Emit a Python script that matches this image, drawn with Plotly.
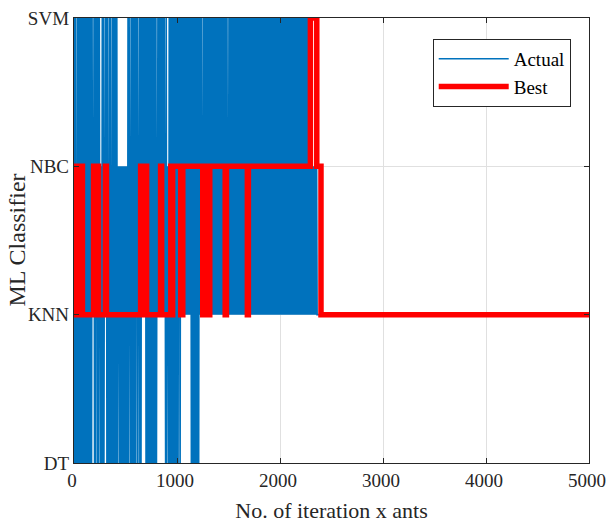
import plotly.graph_objects as go

# ---------------- data ----------------
classifiers = ["DT", "KNN", "NBC", "SVM"]          # y categories (0..3)
x_ticks = [0, 1000, 2000, 3000, 4000, 5000]

# "Actual" series: iteration ranges in which the chosen classifier
# switches rapidly between a lowest and highest classifier (band)
actual_seg_start = [0, 20, 30, 180, 190, 200, 220, 230, 250, 260, 270, 290,
                    300, 320, 330, 340, 360, 370, 420, 430, 440, 520, 540, 550,
                    610, 620, 630, 640, 660, 700, 800, 810, 880, 890, 900, 910,
                    920, 1020, 1030, 1040, 1140, 1220, 1240, 1250, 1490, 1500, 2290]
actual_seg_end = actual_seg_start[1:] + [2360]
actual_seg_low = ["DT", "DT", "DT", "KNN", "KNN", "DT", "KNN", "DT", "KNN", "DT", "DT", "DT",
                  "KNN", "DT", "DT", "DT", "DT", "DT", "DT", "KNN", "DT", "DT", "KNN", "DT",
                  "KNN", "DT", "KNN", "DT", "KNN", "DT", "DT", "KNN", "KNN", "DT", "DT", "KNN",
                  "DT", "KNN", "DT", "KNN", "DT", "KNN", "KNN", "KNN", "KNN", "KNN", "KNN"]
actual_seg_high = ["SVM", "NBC", "SVM", "NBC", "SVM", "SVM", "SVM", "SVM", "NBC", "NBC", "SVM", "NBC",
                   "SVM", "SVM", "NBC", "SVM", "NBC", "SVM", "NBC", "NBC", "NBC", "SVM", "NBC", "SVM",
                   "SVM", "NBC", "SVM", "SVM", "SVM", "SVM", "NBC", "SVM", "NBC", "SVM", "NBC", "NBC",
                   "SVM", "SVM", "SVM", "SVM", "SVM", "SVM", "NBC", "SVM", "NBC", "SVM", "NBC"]
actual_tail_x = [2360, 5000]
actual_tail_y = ["KNN", "KNN"]
actual_step = 5

# "Best" series: step changes (iteration, classifier)
best_x = [0, 0, 25, 35, 55, 65, 82, 190, 205, 220, 238, 305, 315, 647, 665, 685,
          705, 841, 851, 940, 950, 958, 1036, 1056, 1250, 1270, 1295, 1318, 1468,
          1480, 1683, 1693, 2295, 2357, 2398, 5000]
best_y = ["KNN", "NBC", "KNN", "NBC", "KNN", "NBC", "KNN", "NBC", "KNN", "NBC", "KNN",
          "NBC", "KNN", "NBC", "KNN", "NBC", "KNN", "NBC", "KNN", "NBC", "KNN", "NBC",
          "KNN", "NBC", "KNN", "NBC", "KNN", "NBC", "KNN", "NBC", "KNN", "NBC",
          "SVM", "NBC", "KNN", "KNN"]

x_title = "No. of iteration x ants"
y_title = "ML Classifier"

# ---------------- build series ----------------
idx = {c: i for i, c in enumerate(classifiers)}
ax, ay = [], []
for s, e, lo, hi in zip(actual_seg_start, actual_seg_end, actual_seg_low, actual_seg_high):
    for k, it in enumerate(range(s, e, actual_step)):
        ax.append(it)
        ay.append(idx[lo] if k % 2 == 0 else idx[hi])
ax += actual_tail_x
ay += [idx[c] for c in actual_tail_y]

by = [idx[c] for c in best_y]

FONT = "Liberation Serif, Times New Roman, serif"
DARK = "#262626"

fig = go.Figure()
fig.add_trace(go.Scatter(x=ax, y=ay, mode="lines", name="Actual",
                         line=dict(color="#0072BD", width=1.7)))
fig.add_trace(go.Scatter(x=best_x, y=by, mode="lines", name="Best",
                         line=dict(color="#FF0000", width=5.5, shape="hv")))

axis_common = dict(showline=True, mirror="ticks", linecolor=DARK, linewidth=1.3,
                   ticks="inside", ticklen=5, tickwidth=1.3, tickcolor=DARK,
                   showgrid=True, gridcolor="#e0e0e0", gridwidth=1, zeroline=False,
                   automargin=False)

fig.update_layout(
    width=607, height=525,
    margin=dict(l=74, r=18, t=18, b=62),
    paper_bgcolor="white", plot_bgcolor="white",
    font=dict(family=FONT, color=DARK),
    xaxis=dict(range=[0, 5000], tickvals=x_ticks, ticklabeloverflow="allow",
               ticklabelshift=-2,
               tickfont=dict(family=FONT, size=19, color=DARK),
               title=dict(text=x_title, font=dict(family=FONT, size=22, color=DARK),
                          standoff=12),
               **axis_common),
    yaxis=dict(range=[0, 3], tickvals=list(range(len(classifiers))), ticktext=classifiers,
               tickfont=dict(family=FONT, size=19, color=DARK),
               **axis_common),
    legend=dict(x=0.9645, y=0.953, xanchor="right", yanchor="top",
                bgcolor="white", bordercolor=DARK, borderwidth=1,
                font=dict(family=FONT, size=19, color="black"),
                itemwidth=70, tracegroupgap=0),
    annotations=[dict(text=y_title, xref="paper", yref="paper", x=-0.1126, y=0.5,
                      xanchor="center", yanchor="middle", textangle=-90, showarrow=False,
                      borderpad=0,
                      font=dict(family=FONT, size=24, color=DARK))],
    showlegend=True,
)

fig.write_html("out.html")
